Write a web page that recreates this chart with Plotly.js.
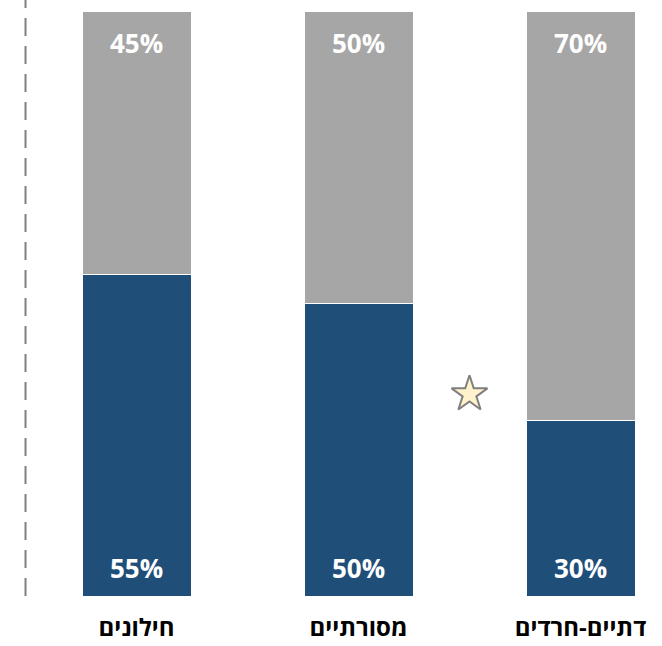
<!DOCTYPE html>
<html>
<head>
<meta charset="utf-8">
<script src="https://cdn.plot.ly/plotly-3.0.1.min.js"></script>
<style>html,body{margin:0;padding:0;background:#fff;}#chart{width:662px;height:646px;}</style>
</head>
<body>
<div id="chart"></div>
<script>
const categories = ["חילונים", "מסורתיים", "דתיים-חרדים"];
const bottomValues = [55, 50, 30];
const topValues = [45, 50, 70];
const starX = [1.5];
const starY = [34.5];

const xIdx = categories.map((c, i) => i);
const fontFam = "Open Sans, Liberation Sans, DejaVu Sans, sans-serif";

const traces = [
  {
    type: "bar", x: xIdx, y: bottomValues, width: 0.491,
    marker: { color: "#1f4e79", line: { color: "#ffffff", width: 1 } },
    hoverinfo: "skip", showlegend: false
  },
  {
    type: "bar", x: xIdx, y: topValues, width: 0.491,
    marker: { color: "#a6a6a6", line: { color: "#ffffff", width: 1 } },
    hoverinfo: "skip", showlegend: false
  },
  {
    type: "scatter", mode: "markers", x: starX, y: starY,
    marker: { symbol: "star", size: 27, color: "#fff2cc", line: { color: "#7f7f7f", width: 2 } },
    hoverinfo: "skip", showlegend: false
  }
];

const annotations = [];
xIdx.forEach(i => {
  annotations.push({
    x: i, y: 0, yref: "y", xref: "x", text: bottomValues[i] + "%",
    showarrow: false, yanchor: "middle", yshift: 28,
    font: { family: fontFam, size: 26, color: "#ffffff", weight: "bold" }
  });
  annotations.push({
    x: i, y: bottomValues[i] + topValues[i], yref: "y", xref: "x", text: topValues[i] + "%",
    showarrow: false, yanchor: "middle", yshift: -32,
    font: { family: fontFam, size: 26, color: "#ffffff", weight: "bold" }
  });
});

const layout = {
  width: 662, height: 646,
  margin: { l: 0, r: 0, t: 0, b: 50 },
  paper_bgcolor: "#ffffff", plot_bgcolor: "#ffffff",
  barmode: "stack",
  xaxis: {
    range: [-0.6149, 2.3671], tickmode: "array", tickvals: xIdx, ticktext: categories,
    showgrid: false, zeroline: false, showline: false, ticks: "",
    ticklabelstandoff: 15, automargin: false,
    tickfont: { family: fontFam, size: 24, color: "#000000", weight: "bold" },
    fixedrange: true
  },
  yaxis: {
    range: [0, 101.88], visible: false, showgrid: false, zeroline: false, fixedrange: true
  },
  shapes: [{
    type: "line", xref: "x", yref: "paper", x0: -0.5, x1: -0.5, y0: 0, y1: 1,
    line: { color: "#7f7f7f", width: 2, dash: "18px,10px" }
  }],
  annotations: annotations
};

Plotly.newPlot("chart", traces, layout, { displayModeBar: false, staticPlot: true });
</script>
</body>
</html>
